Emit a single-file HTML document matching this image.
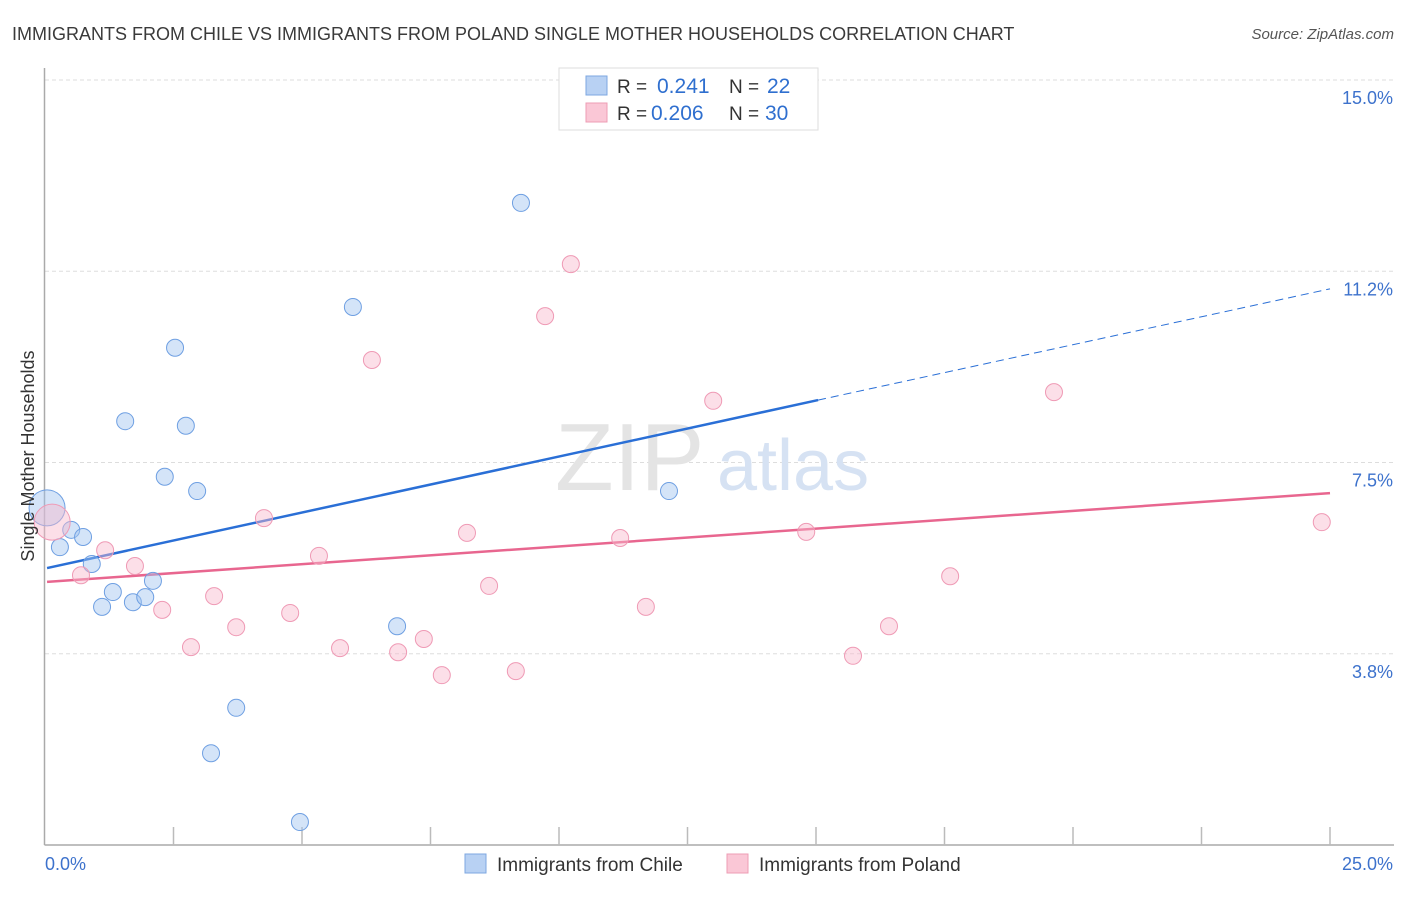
<!DOCTYPE html>
<html><head><meta charset="utf-8"><style>
body{margin:0;background:#fff;font-family:"Liberation Sans",sans-serif}
svg text{font-family:"Liberation Sans",sans-serif}
</style></head><body>
<svg id="chart" width="1406" height="892" xmlns="http://www.w3.org/2000/svg">
<text x="12" y="40" font-size="18" fill="#3a3a3a">IMMIGRANTS FROM CHILE VS IMMIGRANTS FROM POLAND SINGLE MOTHER HOUSEHOLDS CORRELATION CHART</text>
<text x="1394" y="39" font-size="15" fill="#555" text-anchor="end" font-style="italic">Source: ZipAtlas.com</text>
<g id="grid"></g>
<text x="555" y="490" font-size="96" fill="#e4e4e4" font-family="Liberation Serif">ZIP</text>
<text x="717" y="490" font-size="72" fill="#d6e2f3">atlas</text>
<g id="axes"></g>
<g id="trends"></g>
<g id="points"></g>
<text transform="translate(34,456) rotate(-90)" font-size="18" fill="#333" text-anchor="middle">Single Mother Households</text>
<g>
<rect x="559" y="68" width="259" height="62" fill="#fff" stroke="#ddd"/>
<rect x="586" y="76" width="21" height="19" fill="#b8d1f3" stroke="#7ea7e0"/>
<rect x="586" y="103" width="21" height="19" fill="#fac7d6" stroke="#ee9cb4"/>
<text x="617" y="93" font-size="19" fill="#333">R = </text><text x="657" y="93" font-size="21" fill="#2f6fcf">0.241</text>
<text x="729" y="93" font-size="19" fill="#333">N = </text><text x="767" y="93" font-size="21" fill="#2f6fcf">22</text>
<text x="617" y="120" font-size="19" fill="#333">R = </text><text x="651" y="120" font-size="21" fill="#2f6fcf">0.206</text>
<text x="729" y="120" font-size="19" fill="#333">N = </text><text x="765" y="120" font-size="21" fill="#2f6fcf">30</text>
</g>
<g>
<rect x="465" y="854" width="21" height="19" fill="#b8d1f3" stroke="#7ea7e0"/>
<text x="497" y="871" font-size="19" fill="#333">Immigrants from Chile</text></g>
<g>
<rect x="727" y="854" width="21" height="19" fill="#fac7d6" stroke="#ee9cb4"/>
<text x="759" y="871" font-size="19" fill="#333">Immigrants from Poland</text></g>
</svg>
<script>
const chileX=[0.04,0.29,0.51,0.74,0.91,1.11,1.32,1.71,1.95,2.10,1.56,2.33,2.53,2.74,2.96,3.23,3.72,4.96,5.99,6.85,9.26,12.14];
const chileY=[6.61,5.84,6.18,6.04,5.51,4.67,4.96,4.76,4.86,5.18,8.31,7.22,9.75,8.22,6.94,1.80,2.69,0.45,10.55,4.29,12.59,6.94];
const polandX=[0.14,0.70,1.17,1.75,2.28,2.84,3.29,3.72,4.26,4.77,5.33,5.74,6.36,6.87,7.37,7.72,8.21,8.64,9.16,9.73,10.23,11.19,11.69,13.00,14.81,15.72,16.42,17.61,19.63,24.84];
const polandY=[6.33,5.29,5.78,5.47,4.61,3.88,4.88,4.27,6.41,4.55,5.67,3.86,9.51,3.78,4.04,3.33,6.12,5.08,3.41,10.37,11.39,6.02,4.67,8.71,6.14,3.71,4.29,5.27,8.88,6.33];
const yTicks=[3.8,7.5,11.2,15.0];
const yTickLabels=["3.8%","7.5%","11.2%","15.0%"];
const trendChile=[5.43,0.219];
const trendPoland=[5.16,0.0696];
const ns="http://www.w3.org/2000/svg";
const X=v=>45+v*51.4, Y=v=>845-v*51.0;
function mk(tag,attrs,parent){const e=document.createElementNS(ns,tag);for(const k in attrs)e.setAttribute(k,attrs[k]);document.getElementById(parent).appendChild(e);return e;}
yTicks.forEach((t,i)=>{
 const g=mk('line',{x1:45,x2:1394,y1:Y(t===3.8?3.75:t===11.2?11.25:t),y2:Y(t===3.8?3.75:t===11.2?11.25:t),stroke:'#ddd','stroke-dasharray':'4,3'},'grid');
 
 
 const l=mk('text',{x:1393,y:Y(t===3.8?3.75:t===11.2?11.25:t)+24,'font-size':18,fill:'#3d72cc','text-anchor':'end'},'grid');
 l.textContent=yTickLabels[i];
 
 
});
mk('line',{x1:44.5,x2:44.5,y1:68,y2:845,stroke:'#aaa','stroke-width':1.5},'axes');
mk('line',{x1:44.5,x2:1394,y1:845,y2:845,stroke:'#aaa','stroke-width':1.5},'axes');
for(let i=1;i<=10;i++){const t=mk('line',{x1:X(i*2.5),x2:X(i*2.5),y1:827,y2:845,stroke:'#bbb','stroke-width':1.5},'axes');
 
 }
const xl0=mk('text',{x:45,y:870,'font-size':18,fill:'#3d72cc'},'axes');xl0.textContent='0.0%';

const xl1=mk('text',{x:1393,y:870,'font-size':18,fill:'#3d72cc','text-anchor':'end'},'axes');xl1.textContent='25.0%';

// trends
let t1=mk('line',{x1:X(0.04),y1:Y(trendChile[0]),x2:X(15.04),y2:Y(trendChile[0]+trendChile[1]*15.04),stroke:'#2a6fd6','stroke-width':2.5},'trends');

let t2=mk('line',{x1:X(15.04),y1:Y(trendChile[0]+trendChile[1]*15.04),x2:X(25),y2:Y(trendChile[0]+trendChile[1]*25),stroke:'#2a6fd6','stroke-width':1,'stroke-dasharray':'8,5'},'trends');

let t3=mk('line',{x1:X(0.04),y1:Y(trendPoland[0]),x2:X(25),y2:Y(trendPoland[0]+trendPoland[1]*25),stroke:'#e8668f','stroke-width':2.5},'trends');

chileX.forEach((x,i)=>{const c=mk('circle',{cx:X(x),cy:Y(chileY[i]),r:i===0?18:8.5,fill:'rgba(160,195,240,0.45)',stroke:'#6e9fe2','stroke-width':1},'points');
 
 });
polandX.forEach((x,i)=>{const c=mk('circle',{cx:X(x),cy:Y(polandY[i]),r:i===0?18:8.5,fill:'rgba(248,185,205,0.45)',stroke:'#ef9ab5','stroke-width':1},'points');
 
 });
</script>
</body></html>
